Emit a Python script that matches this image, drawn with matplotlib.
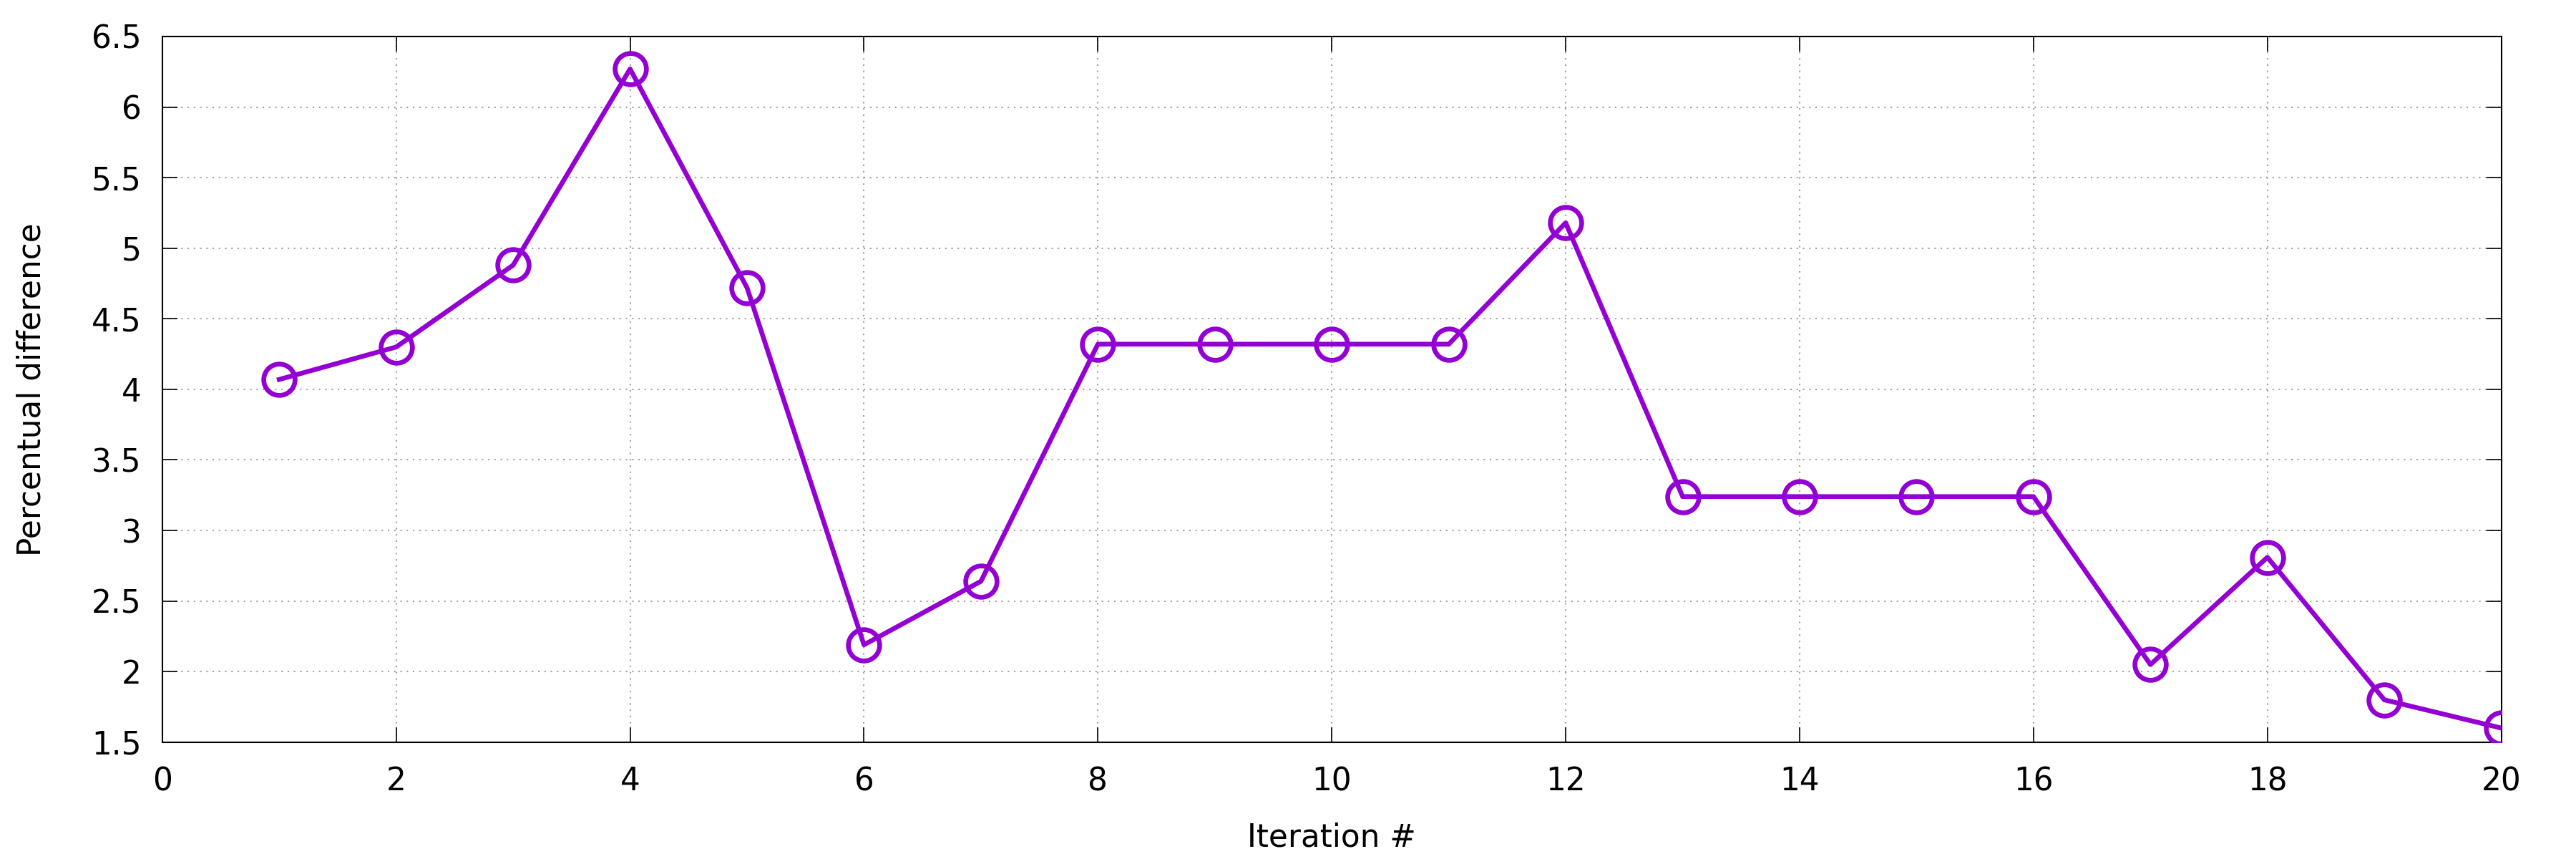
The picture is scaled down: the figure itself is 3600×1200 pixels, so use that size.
import matplotlib
matplotlib.use("Agg")
from matplotlib import pyplot as plt

# data
iterations = list(range(1, 21))
percent_diff = [4.07, 4.30, 4.88, 6.27, 4.72, 2.19, 2.64, 4.32, 4.32, 4.32,
                4.32, 5.18, 3.24, 3.24, 3.24, 3.24, 2.05, 2.81, 1.80, 1.60]
x_ticks = list(range(0, 21, 2))
y_ticks = [1.5, 2, 2.5, 3, 3.5, 4, 4.5, 5, 5.5, 6, 6.5]
y_tick_labels = ['1.5', '2', '2.5', '3', '3.5', '4', '4.5', '5', '5.5', '6', '6.5']

plt.rcParams['font.family'] = ['DejaVu Sans']
plt.rcParams['font.size'] = 10.5

fig = plt.figure(figsize=(12, 4), dpi=300)
ax = fig.add_axes([0.063, 0.136, 0.908, 0.8215])

ax.plot(iterations, percent_diff, color='#9400d3', linewidth=1.6,
        marker='o', markersize=10.5, markerfacecolor='none',
        markeredgewidth=1.6, markeredgecolor='#9400d3', zorder=3)

ax.set_xlim(0, 20)
ax.set_ylim(1.5, 6.5)
ax.set_xticks(x_ticks)
ax.set_yticks(y_ticks)
ax.set_yticklabels(y_tick_labels)

# gnuplot-like: inward ticks mirrored on all sides, dotted grid
ax.tick_params(direction='in', length=5, width=0.4, top=True, right=True,
               labeltop=False, labelright=False, labelsize=10.5)
ax.tick_params(axis='x', pad=8)
ax.tick_params(axis='y', pad=7)
for s in ax.spines.values():
    s.set_linewidth(0.5)
ax.grid(True, color='#a0a0a0', linewidth=0.5, linestyle=(0, (1, 3.2)))
ax.set_axisbelow(True)

ax.set_xlabel('Iteration #', fontsize=10.5, labelpad=8.5)
ax.set_ylabel('Percentual difference', fontsize=10.5, labelpad=15)

fig.savefig('out.png', dpi=300)
